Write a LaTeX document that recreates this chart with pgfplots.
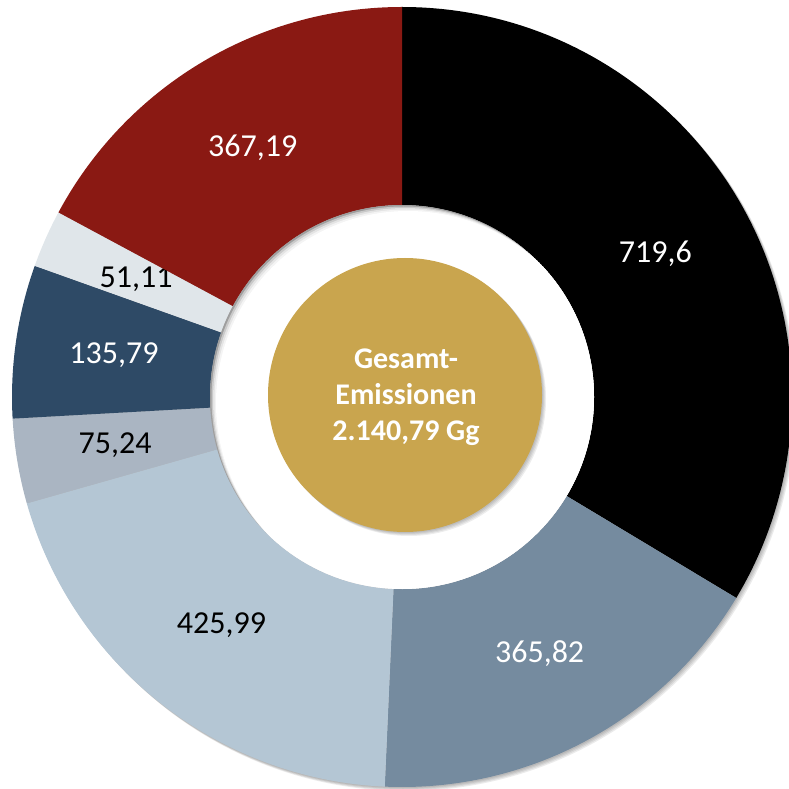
\documentclass[border=0pt]{standalone}
\usepackage{fontspec}
\setmainfont{Carlito}
\usepackage{pgfplots}
\usepackage{pgfplotstable}
\pgfplotsset{compat=1.18}

\definecolor{cBlack}{HTML}{000000}
\definecolor{cSlate}{HTML}{758B9F}
\definecolor{cLight}{HTML}{B4C6D4}
\definecolor{cGray}{HTML}{AAB5C2}
\definecolor{cNavy}{HTML}{2E4A66}
\definecolor{cPale}{HTML}{E0E6EA}
\definecolor{cRed}{HTML}{8A1913}
\definecolor{cGold}{HTML}{C9A54E}

% clockwise from 12 o'clock
\pgfplotstableread{
value  fillcol textcol
719.6  cBlack  white
365.82 cSlate  white
425.99 cLight  black
75.24  cGray   black
135.79 cNavy   white
51.11  cPale   black
367.19 cRed    white
}\emissions

\begin{document}
\begin{tikzpicture}
\begin{axis}[
  name=ax,
  width=789pt, height=788pt, scale only axis,
  xmin=0, xmax=789, ymin=0, ymax=788,
  hide axis, clip mode=global,
]
\pgfplotsextra{
  \def\cx{402}\def\cy{391}\def\Ro{390}\def\Ri{192}\def\Rl{291}
  % total
  \def\total{0}
  \pgfplotsforeachungrouped \i in {0,...,6}{%
    \pgfplotstablegetelem{\i}{value}\of\emissions
    \pgfmathsetmacro\total{\total+\pgfplotsretval}}
  % soft shadow under the ring
  \foreach \s in {1,2,3,4}{%
    \pgfmathsetmacro\sx{\cx+\s}\pgfmathsetmacro\sy{\cy-\s}
    \fill[black, opacity=0.08] (axis cs:\sx,\sy) circle[radius=\Ro pt];}
  % ring segments
  \def\cum{0}
  \pgfplotsforeachungrouped \i in {0,...,6}{%
    \pgfplotstablegetelem{\i}{value}\of\emissions \let\v\pgfplotsretval
    \pgfplotstablegetelem{\i}{fillcol}\of\emissions \let\fc\pgfplotsretval
    \pgfplotstablegetelem{\i}{textcol}\of\emissions \let\tc\pgfplotsretval
    \pgfmathsetmacro\aA{90-360*(\cum/\total)}
    \pgfmathsetmacro\aB{90-360*((\cum+\v)/\total)}
    \pgfmathsetmacro\aM{(\aA+\aB)/2}
    \pgfmathsetmacro\xA{\cx+\Ro*cos(\aA)}\pgfmathsetmacro\yA{\cy+\Ro*sin(\aA)}
    \pgfmathsetmacro\xB{\cx+\Ri*cos(\aB)}\pgfmathsetmacro\yB{\cy+\Ri*sin(\aB)}
    \pgfmathsetmacro\xM{\cx+\Rl*cos(\aM)}\pgfmathsetmacro\yM{\cy+\Rl*sin(\aM)}
    \fill[fill=\fc] (axis cs:\xA,\yA) arc[start angle=\aA, end angle=\aB, radius=\Ro pt]
      -- (axis cs:\xB,\yB) arc[start angle=\aB, end angle=\aA, radius=\Ri pt] -- cycle;
    \node[text=\tc, font=\fontsize{32}{38}\selectfont] at (axis cs:\xM,\yM)
      {\pgfmathprintnumber[use comma,fixed,precision=2,assume math mode=true]{\v}};
    \pgfmathsetmacro\cum{\cum+\v}
  }
  % hole with inner shadow at upper left
  \begin{scope}
    \clip (axis cs:\cx,\cy) circle[radius=\Ri pt];
    \fill[black!38] (axis cs:\cx,\cy) circle[radius=\Ri pt];
    \foreach \s/\op in {1.5/0.45, 3/0.5, 4.5/0.6, 6/1}{%
      \pgfmathsetmacro\sx{\cx+\s}\pgfmathsetmacro\sy{\cy-\s}
      \fill[white, opacity=\op] (axis cs:\sx,\sy) circle[radius=\Ri pt];}
  \end{scope}
  % centre disc
  \foreach \s in {1,2,3,4}{%
    \pgfmathsetmacro\sx{405+\s}\pgfmathsetmacro\sy{393-\s}
    \fill[black, opacity=0.07] (axis cs:\sx,\sy) circle[radius=137pt];}
  \fill[cGold] (axis cs:405,393) circle[radius=137pt];
  \node[text=white, align=center, font=\bfseries\fontsize{30}{36}\selectfont]
    at (axis cs:406,391) {Gesamt-\\Emissionen\\2.140,79 Gg};
}
\end{axis}
\pgfresetboundingbox
\path[use as bounding box] (ax.south west) rectangle (ax.north east);
\end{tikzpicture}
\end{document}
